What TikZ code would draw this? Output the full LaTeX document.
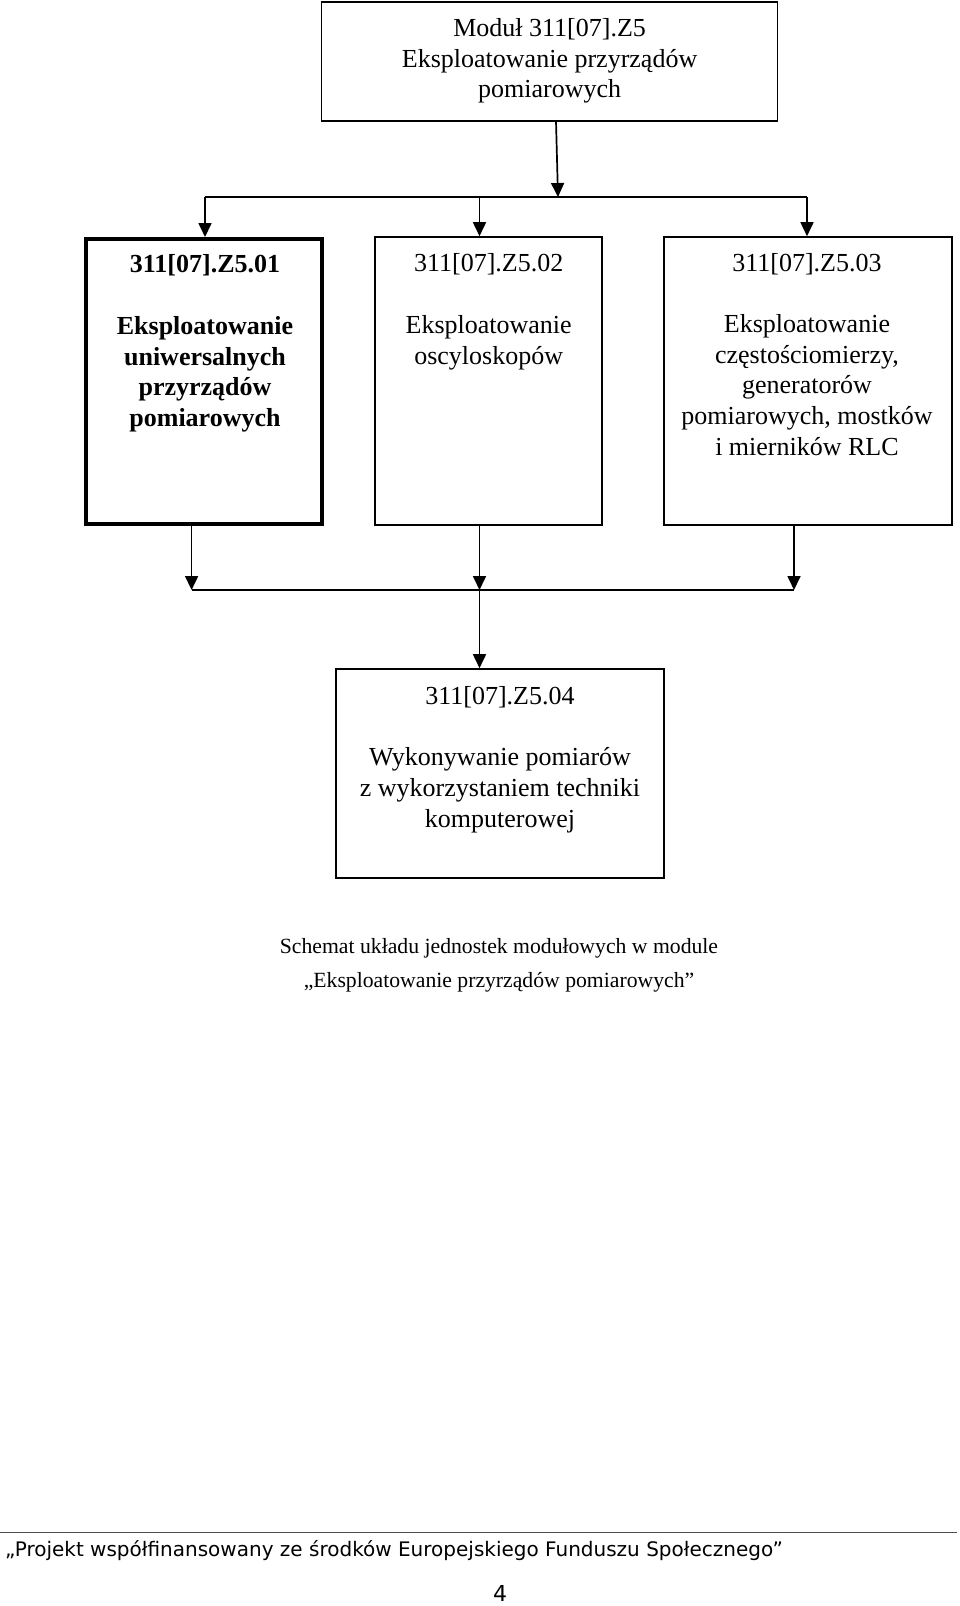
\documentclass[tikz,border=0pt]{standalone}
\usepackage{fontspec}
\setmainfont{Liberation Serif}
\newfontfamily\footfont{DejaVu Sans}
\usetikzlibrary{arrows.meta}
\tikzset{
  box/.style={draw=black, line width=1.6pt, inner sep=0pt, rectangle},
  thickbox/.style={draw=black, line width=4pt, inner sep=0pt, rectangle},
  txt/.style={align=center, inner sep=0pt, font=\fontsize{26}{30.7}\selectfont},
  conn/.style={line width=1.7pt, draw=black},
  arr/.style={conn, -{Triangle[length=14pt,width=13pt]}},
}
\begin{document}
\begin{tikzpicture}[x=1pt,y=-1pt]
\useasboundingbox (0,0) rectangle (960,1606);
% boxes
\node[box, minimum width=456pt, minimum height=119pt] (top) at (549.6,61.5) {};
\node[thickbox, minimum width=236pt, minimum height=285pt] (b1) at (204,381.5) {};
\node[box, minimum width=227pt, minimum height=288pt] (b2) at (488.5,381) {};
\node[box, minimum width=288pt, minimum height=288pt] (b3) at (808,381) {};
\node[box, minimum width=328pt, minimum height=209pt] (b4) at (500,773.5) {};
% texts
\node[txt] (ttop) at (549.6,61) {Moduł 311[07].Z5\\Eksploatowanie przyrządów\\pomiarowych};
\node[txt, font=\fontsize{26}{30.7}\selectfont\bfseries] (t1) at (205,343.5) {311[07].Z5.01\\[30.7pt]Eksploatowanie\\uniwersalnych\\przyrządów\\pomiarowych};
\node[txt] (t2) at (488.7,311.8) {311[07].Z5.02\\[30.7pt]Eksploatowanie\\oscyloskopów};
\node[txt] (t3) at (807,354.4) {311[07].Z5.03\\[30.7pt]Eksploatowanie\\częstościomierzy,\\generatorów\\pomiarowych, mostków\\i mierników RLC};
\node[txt] (t4) at (500,759.6) {311[07].Z5.04\\[30.7pt]Wykonywanie pomiarów\\z wykorzystaniem techniki\\komputerowej};
% upper connectors
\coordinate (a0) at (556,121);
\coordinate (am) at (558,197);
\coordinate (bl) at (205,197);
\coordinate (bm) at (479.5,197);
\coordinate (br) at (807,197);
\draw[arr] (a0) -- (am);
\draw[conn] (bl) -- (br);
\draw[arr] (bl) -- (bl |- b1.north);
\draw[arr] (bm) -- (bm |- b2.north);
\draw[arr] (br) -- (br |- b3.north);
% lower connectors
\coordinate (l1) at (191.6,590);
\coordinate (l2) at (479.5,590);
\coordinate (l3) at (794,590);
\draw[arr] (l1 |- b1.south) -- (l1);
\draw[arr] (l2 |- b2.south) -- (l2);
\draw[arr] (l3 |- b3.south) -- (l3);
\draw[conn] (l1) -- (l3);
\draw[arr] (l2) -- (l2 |- b4.north);
% caption
\node[align=center, inner sep=0pt, font=\fontsize{21.7}{33.8}\selectfont] (cap) at (499,965.5) {Schemat układu jednostek modułowych w module\\„Eksploatowanie przyrządów pomiarowych”};
% footer
\coordinate (r0) at (0,1532.7);
\coordinate (r1) at (957,1532.7);
\draw[line width=1.5pt, draw=black!70] (r0) -- (r1);
\node[anchor=west, inner sep=0pt, font=\footfont\fontsize{20}{24}\selectfont] (foot) at (5,1551) {„Projekt współfinansowany ze środków Europejskiego Funduszu Społecznego”};
\node[inner sep=0pt, font=\footfont\fontsize{22}{26}\selectfont] (pg) at (500,1593) {4};
\end{tikzpicture}
\end{document}
